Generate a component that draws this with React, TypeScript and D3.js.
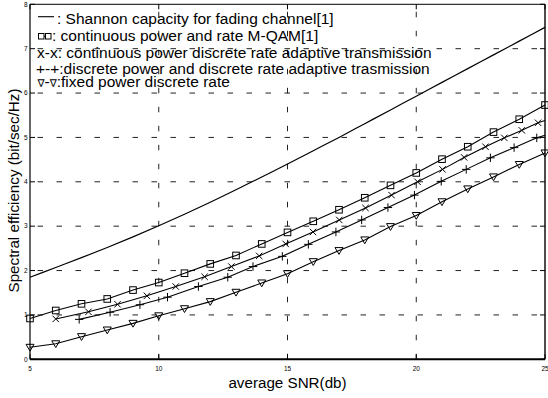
import React from 'react';
import * as d3 from 'd3';

// ---- data ----
const snrTicks = [5, 10, 15, 20, 25];
const effTicks = [0, 1, 2, 3, 4, 5, 6, 7, 8];

const shannonSNR = [5, 6, 7, 8, 9, 10, 11, 12, 13, 14, 15, 16, 17, 18, 19, 20, 21, 22, 23, 24, 25];
const shannonVals = [1.85, 2.07, 2.29, 2.52, 2.76, 3.01, 3.27, 3.54, 3.82, 4.11, 4.40, 4.70, 5.00, 5.31, 5.62, 5.93, 6.24, 6.55, 6.86, 7.17, 7.48];

const squareSNR = [5, 6, 7, 8, 9, 10, 11, 12, 13, 14, 15, 16, 17, 18, 19, 20, 21, 22, 23, 24, 25];
const squareVals = [0.92, 1.10, 1.25, 1.36, 1.56, 1.73, 1.94, 2.15, 2.34, 2.60, 2.86, 3.11, 3.37, 3.64, 3.92, 4.20, 4.51, 4.79, 5.12, 5.41, 5.73];

const crossSNR = [6.0, 7.27, 8.40, 9.54, 10.66, 11.78, 12.82, 13.90, 14.93, 15.99, 17.01, 18.03, 19.04, 20.05, 21.02, 21.86, 22.69, 23.42, 24.10, 24.73];
const crossVals = [0.91, 1.07, 1.24, 1.43, 1.64, 1.86, 2.09, 2.33, 2.60, 2.87, 3.14, 3.41, 3.70, 4.00, 4.28, 4.55, 4.79, 4.99, 5.16, 5.33];
const crossTailSNR = [25];
const crossTailVals = [5.38];

const plusSNR = [6.91, 8.11, 9.27, 10.34, 11.54, 12.68, 13.66, 14.80, 15.81, 16.88, 17.88, 18.90, 19.93, 20.97, 21.94, 22.88, 23.80, 24.68];
const plusVals = [0.90, 1.06, 1.23, 1.40, 1.64, 1.85, 2.09, 2.32, 2.59, 2.87, 3.14, 3.42, 3.70, 4.01, 4.28, 4.54, 4.77, 4.99];
const plusTailSNR = [25];
const plusTailVals = [5.05];

const triSNR = [5, 6, 7, 8, 9, 10, 11, 12, 13, 14, 15, 16, 17, 18, 19, 20, 21, 22, 23, 24, 25];
const triVals = [0.27, 0.35, 0.51, 0.66, 0.81, 0.98, 1.14, 1.30, 1.51, 1.72, 1.93, 2.20, 2.45, 2.69, 2.99, 3.24, 3.55, 3.84, 4.11, 4.39, 4.65];

const legendLines = [
  ': Shannon capacity for fading channel[1]',
  ': continuous power and rate M-QAM[1]',
  'x-x: continuous power discrete rate adaptive transmission',
  '+-+:discrete power and discrete rate adaptive trasmission',
  ':fixed power discrete rate',
];
const nabla = '\u2207';
const xLabel = 'average SNR(db)';
const yLabel = 'Spectral efficiency (bit/sec/Hz)';

const W = 548;
const H = 398;
const L = 30, R = 545, T = 4.3, B = 359.3;

export default function App() {
  const x = d3.scaleLinear().domain([5, 25]).range([L, R]);
  const y = d3.scaleLinear().domain([0, 8]).range([B, T]);
  const font = 'Arial, "Liberation Sans", Helvetica, sans-serif';

  const lin = d3.line<[number, number]>().x(d => x(d[0])).y(d => y(d[1]));
  const smooth = d3.line<[number, number]>().x(d => x(d[0])).y(d => y(d[1])).curve(d3.curveMonotoneX);
  const zip = (a: number[], b: number[]) => a.map((v, i) => [v, b[i]] as [number, number]);

  const sq = zip(squareSNR, squareVals);
  const cr = zip(crossSNR, crossVals);
  const pl = zip(plusSNR, plusVals);
  const tr = zip(triSNR, triVals);

  const stroke = '#000';
  const lw = 1.1;

  return (
    <svg width={W} height={H} style={{ position: 'absolute', left: 0, top: 0, background: '#fff' }} fontFamily={font}>
      <rect x={0} y={0} width={W} height={H} fill="#fff" />
      {/* grid */}
      {snrTicks.filter(t => t !== 5 && t !== 25).map(t => (
        <line key={'gx' + t} x1={x(t)} x2={x(t)} y1={B} y2={T} stroke="#222" strokeWidth={1} strokeDasharray="5.5,13.5" />
      ))}
      {effTicks.filter(t => t !== 0 && t !== 8).map(t => (
        <line key={'gy' + t} x1={L} x2={R} y1={y(t)} y2={y(t)} stroke="#222" strokeWidth={1} strokeDasharray="5.5,13.5" strokeDashoffset={11.5} />
      ))}
      {/* axes box */}
      <line x1={L} x2={R} y1={T} y2={T} stroke={stroke} strokeWidth={1} />
      <line x1={L} x2={L} y1={T} y2={B} stroke={stroke} strokeWidth={1.2} />
      <line x1={R} x2={R} y1={T} y2={B} stroke={stroke} strokeWidth={1.4} />
      <line x1={L} x2={R} y1={B} y2={B} stroke={stroke} strokeWidth={2} />
      {/* ticks */}
      {snrTicks.map(t => (
        <g key={'tx' + t}>
          <line x1={x(t)} x2={x(t)} y1={B} y2={B - 5} stroke={stroke} />
          <line x1={x(t)} x2={x(t)} y1={T} y2={T + 5} stroke={stroke} />
          <text x={x(t)} y={370.7} fontSize={6.5} textAnchor="middle">{t}</text>
        </g>
      ))}
      {effTicks.map(t => (
        <g key={'ty' + t}>
          <line x1={L} x2={L + 5} y1={y(t)} y2={y(t)} stroke={stroke} />
          <line x1={R} x2={R - 5} y1={y(t)} y2={y(t)} stroke={stroke} />
          <text x={27.5} y={y(t) + 2.3} fontSize={6.5} textAnchor="end">{t}</text>
        </g>
      ))}
      {/* curves */}
      <path d={smooth(zip(shannonSNR, shannonVals)) || ''} fill="none" stroke={stroke} strokeWidth={1.2} />
      <path d={lin(sq) || ''} fill="none" stroke={stroke} strokeWidth={lw} />
      <path d={lin([...cr, ...zip(crossTailSNR, crossTailVals)]) || ''} fill="none" stroke={stroke} strokeWidth={lw} />
      <path d={lin([...pl, ...zip(plusTailSNR, plusTailVals)]) || ''} fill="none" stroke={stroke} strokeWidth={lw} />
      <path d={lin(tr) || ''} fill="none" stroke={stroke} strokeWidth={lw} />
      {/* markers */}
      {sq.map((d, i) => (
        <rect key={'s' + i} x={x(d[0]) - 3.3} y={y(d[1]) - 3.3} width={6.6} height={6.6} fill="none" stroke={stroke} strokeWidth={1} />
      ))}
      {cr.map((d, i) => {
        const cx = x(d[0]), cy = y(d[1]), s = 3.2;
        return <path key={'c' + i} d={`M${cx - s},${cy - s}L${cx + s},${cy + s}M${cx - s},${cy + s}L${cx + s},${cy - s}`} stroke={stroke} strokeWidth={1} />;
      })}
      {pl.map((d, i) => {
        const cx = x(d[0]), cy = y(d[1]), s = 4.2;
        return <path key={'p' + i} d={`M${cx - s},${cy}L${cx + s},${cy}M${cx},${cy - s}L${cx},${cy + s}`} stroke={stroke} strokeWidth={1} />;
      })}
      {tr.map((d, i) => {
        const cx = x(d[0]), cy = y(d[1]);
        return <path key={'t' + i} d={`M${cx - 4},${cy - 3}L${cx + 4},${cy - 3}L${cx},${cy + 3.8}Z`} fill="none" stroke={stroke} strokeWidth={1} />;
      })}
      {/* legend text */}
      <line x1={38} x2={54} y1={16.7} y2={16.7} stroke={stroke} strokeWidth={1.1} />
      <text x={57} y={24.3} fontSize={15.5}>{legendLines[0]}</text>
      <rect x={38.5} y={33.5} width={5.5} height={5.5} fill="none" stroke={stroke} strokeWidth={1} />
      <line x1={44} x2={45.5} y1={36.3} y2={36.3} stroke={stroke} strokeWidth={1} />
      <rect x={45.5} y={33.5} width={5.5} height={5.5} fill="none" stroke={stroke} strokeWidth={1} />
      <text x={52} y={41} fontSize={15.5}>{legendLines[1]}</text>
      <text x={37} y={58.3} fontSize={15.5}>{legendLines[2]}</text>
      <text x={36} y={74.3} fontSize={15.5}>{legendLines[3]}</text>
      <text x={37.5} y={87} fontSize={15.5}>
        <tspan fontSize={10.5} fontFamily="DejaVu Sans">{nabla}</tspan>
        <tspan>-</tspan>
        <tspan fontSize={10.5} fontFamily="DejaVu Sans">{nabla}</tspan>
        <tspan>{legendLines[4]}</tspan>
      </text>
      {/* axis labels */}
      <text x={287.5} y={388} fontSize={15.2} textAnchor="middle">{xLabel}</text>
      <text transform={`translate(18.5,190.5) rotate(-90)`} fontSize={15.2} textAnchor="middle">{yLabel}</text>
    </svg>
  );
}
